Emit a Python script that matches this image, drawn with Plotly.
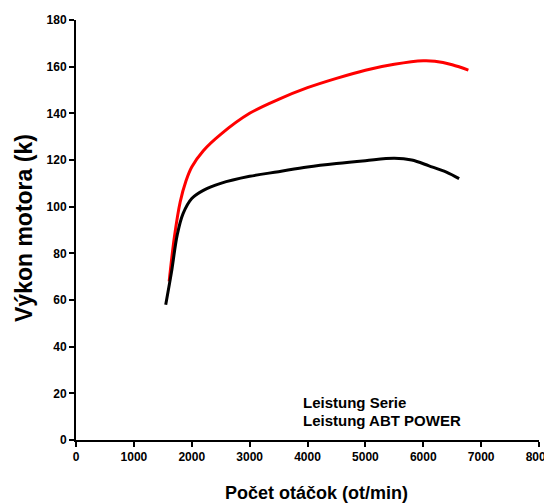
import plotly.graph_objects as go

rpm_serie = [1550, 1650, 1750, 1850, 2000, 2200, 2500, 3000, 3500, 4000, 4500, 5000, 5500, 5800, 6100, 6400, 6620]
kw_serie = [58, 72, 88, 97, 103.5, 107, 110, 113, 115, 117, 118.5, 119.7, 120.7, 120, 117.5, 114.8, 112]

rpm_abt = [1610, 1700, 1800, 1900, 2000, 2200, 2500, 3000, 3500, 4000, 4500, 5000, 5500, 6000, 6200, 6500, 6780]
kw_abt = [68, 87, 102, 111, 117, 124, 131, 140, 146, 151, 155, 158.5, 161, 162.5, 162.3, 160.8, 158.5]

legend_labels = ["Leistung Serie", "Leistung ABT POWER"]
x_ticks = [0, 1000, 2000, 3000, 4000, 5000, 6000, 7000, 8000]
y_ticks = [0, 20, 40, 60, 80, 100, 120, 140, 160, 180]

font_family = "Liberation Sans, Arial, sans-serif"

fig = go.Figure()
fig.add_trace(go.Scatter(x=rpm_abt, y=kw_abt, mode="lines", line=dict(color="#ff0000", width=3, shape="spline"),
                         name=legend_labels[1], showlegend=False))
fig.add_trace(go.Scatter(x=rpm_serie, y=kw_serie, mode="lines", line=dict(color="#000000", width=3, shape="spline"),
                         name=legend_labels[0], showlegend=False))

tickfont = dict(family=font_family, size=12, color="#000000", weight="bold")

# plot area in the photographed page: x 76..539, y 20..440 (page has an 8px body offset)
PW, PH = 463, 420

fig.update_layout(
    width=544, height=496,
    margin=dict(l=68, r=13, t=12, b=64, autoexpand=False),
    paper_bgcolor="white", plot_bgcolor="white",
    xaxis=dict(range=[0, 8000], tickvals=x_ticks, ticktext=[str(v) for v in x_ticks],
               showgrid=False, zeroline=False, showline=True, linecolor="black", linewidth=2,
               ticks="outside", ticklen=5, tickwidth=2, tickcolor="black", tickfont=tickfont,
               ticklabeloverflow="allow", automargin=False),
    yaxis=dict(range=[0, 180], tickvals=y_ticks, ticktext=[str(v) for v in y_ticks],
               showgrid=False, zeroline=False, showline=True, linecolor="black", linewidth=2,
               ticks="outside", ticklen=5, tickwidth=2, tickcolor="black", tickfont=tickfont,
               ticklabeloverflow="allow", automargin=False),
    annotations=[
        dict(text="Počet otáčok (ot/min)", xref="paper", yref="paper", x=(316 - 76) / PW, y=(440 - 493) / PH,
             xanchor="center", yanchor="middle", showarrow=False,
             font=dict(family=font_family, size=18, color="black", weight="bold")),
        dict(text="Výkon motora (k)", xref="paper", yref="paper", x=(24 - 76) / PW, y=(440 - 228) / PH,
             textangle=-90, xanchor="center", yanchor="middle", showarrow=False,
             font=dict(family=font_family, size=23, color="black", weight="bold")),
        dict(text=legend_labels[0], xref="paper", yref="paper", x=(301 - 76) / PW, y=(440 - 402) / PH,
             xanchor="left", yanchor="middle", showarrow=False,
             font=dict(family=font_family, size=15, color="black", weight="bold")),
        dict(text=legend_labels[1], xref="paper", yref="paper", x=(301 - 76) / PW, y=(440 - 420) / PH,
             xanchor="left", yanchor="middle", showarrow=False,
             font=dict(family=font_family, size=15, color="black", weight="bold")),
    ],
)

fig.write_html("out.html")
